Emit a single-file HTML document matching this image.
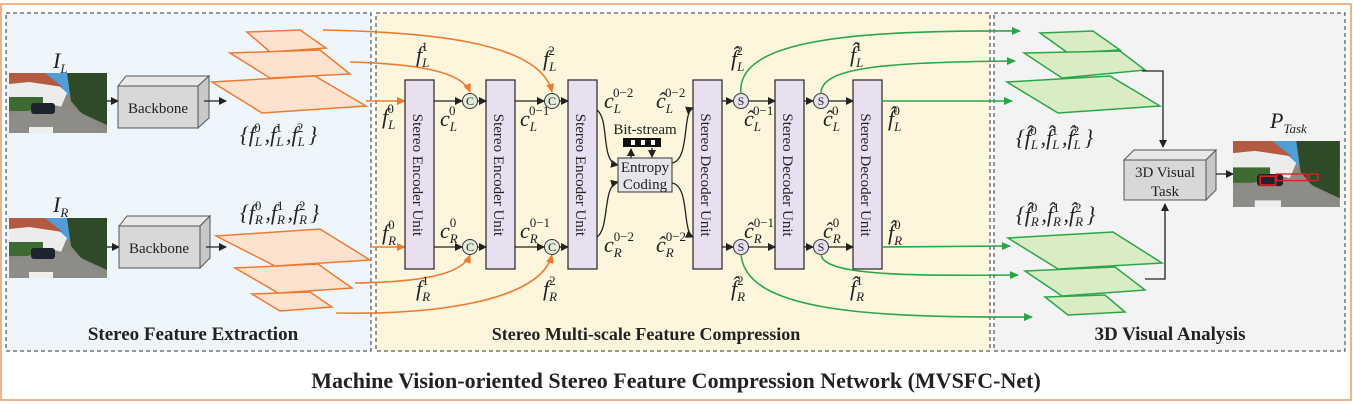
<!DOCTYPE html>
<html><head><meta charset="utf-8"><style>
html,body{margin:0;padding:0;background:#fff;}
svg{display:block;}
.m{font-family:"Liberation Serif",serif;font-style:italic;font-size:22px;fill:#222;}
.s{font-size:13px;}
.n{font-style:normal;}
.t{font-family:"Liberation Serif",serif;font-size:15px;fill:#222;}
.b{font-family:"Liberation Serif",serif;font-weight:bold;fill:#222;}
.op{fill:#fde3cf;stroke:#ee7a30;stroke-width:1.5;}
.gp{fill:#d9ecc4;stroke:#2aa64a;stroke-width:1.5;}
.oc{fill:none;stroke:#ee7a30;stroke-width:1.6;}
.gc{fill:none;stroke:#2aa64a;stroke-width:1.6;}
.k{fill:none;stroke:#222;stroke-width:1.3;}
.unit{fill:#e8e0f0;stroke:#333;stroke-width:1.3;}
</style></head><body>
<svg width="1353" height="404" viewBox="0 0 1353 404" xmlns="http://www.w3.org/2000/svg">
<defs>
<marker id="ak" markerWidth="8" markerHeight="8" refX="7" refY="4" orient="auto" markerUnits="userSpaceOnUse"><path d="M0,0 L8,4 L0,8 z" fill="#222"/></marker>
<marker id="ao" markerWidth="9" markerHeight="8" refX="8" refY="4" orient="auto" markerUnits="userSpaceOnUse"><path d="M0,0 L9,4 L0,8 z" fill="#ee7a30"/></marker>
<marker id="ag" markerWidth="9" markerHeight="8" refX="8" refY="4" orient="auto" markerUnits="userSpaceOnUse"><path d="M0,0 L9,4 L0,8 z" fill="#2aa64a"/></marker>
<g id="photo">
<rect x="0" y="0" width="98" height="60" fill="#8a8a80"/>
<rect x="0" y="0" width="98" height="22" fill="#4f9ed8"/>
<polygon points="0,2 38,2 58,20 52,34 0,38" fill="#ececec"/>
<polygon points="0,0 36,0 54,14 20,9 0,11" fill="#b45a40"/>
<polygon points="58,0 98,0 98,52 72,40 62,28" fill="#2f4a26"/>
<rect x="0" y="24" width="34" height="14" fill="#3d6a30"/>
<polygon points="0,42 45,32 70,38 98,60 0,60" fill="#8e8c88"/>
<rect x="22" y="30" width="24" height="11" rx="3" fill="#1e2330"/>
<rect x="20" y="54" width="24" height="6" fill="#eee"/>
</g>
</defs>

<rect x="1" y="4" width="1350" height="396" fill="#fff" stroke="#ec9a60" stroke-width="1.5"/>
<rect x="6" y="13" width="365" height="338" fill="#eef6fb" stroke="#333" stroke-dasharray="4,3"/>
<rect x="376" y="13" width="614" height="338" fill="#fdf6dd" stroke="#333" stroke-dasharray="4,3"/>
<rect x="994" y="13" width="351" height="338" fill="#f3f3f3" stroke="#333" stroke-dasharray="4,3"/>

<!-- left panel -->
<text class="m" x="53" y="68">I<tspan class="s" dy="5">L</tspan></text>
<use href="#photo" x="9" y="73"/>
<line x1="107" y1="101" x2="118" y2="101" class="k" marker-end="url(#ak)"/>
<g>
<polygon points="118,86 126,76 209,76 198,86" fill="#e8e8e8" stroke="#555"/>
<polygon points="198,86 209,76 209,118 198,128" fill="#c8c8c8" stroke="#555"/>
<rect x="118" y="86" width="80" height="42" fill="#d8d8d8" stroke="#555"/>
<text class="t" x="158" y="113" text-anchor="middle" font-size="16">Backbone</text>
</g>
<line x1="204" y1="101" x2="226" y2="101" class="k" marker-end="url(#ak)"/>
<polygon class="op" points="247,32 300,30 326,48 270,52"/>
<polygon class="op" points="230,53 320,50 350,74 270,78"/>
<polygon class="op" points="212,82 315,76 366,106 262,113"/>
<text class="m" x="240" y="142">{f<tspan class="s" dy="4">L</tspan><tspan class="s n" dx="-8" dy="-14">0</tspan><tspan dx="4" dy="10">,f</tspan><tspan class="s" dy="4">L</tspan><tspan class="s n" dx="-8" dy="-14">1</tspan><tspan dx="4" dy="10">,f</tspan><tspan class="s" dy="4">L</tspan><tspan class="s n" dx="-8" dy="-14">2</tspan><tspan dx="5" dy="10">}</tspan></text>

<text class="m" x="53" y="212">I<tspan class="s" dy="5">R</tspan></text>
<use href="#photo" x="9" y="218"/>
<line x1="107" y1="247" x2="119" y2="247" class="k" marker-end="url(#ak)"/>
<g>
<polygon points="119,226 127,216 210,216 200,226" fill="#e8e8e8" stroke="#555"/>
<polygon points="200,226 210,216 210,258 200,268" fill="#c8c8c8" stroke="#555"/>
<rect x="119" y="226" width="81" height="42" fill="#d8d8d8" stroke="#555"/>
<text class="t" x="159" y="253" text-anchor="middle" font-size="16">Backbone</text>
</g>
<line x1="206" y1="247" x2="226" y2="247" class="k" marker-end="url(#ak)"/>
<text class="m" x="240" y="220">{f<tspan class="s" dy="4">R</tspan><tspan class="s n" dx="-8" dy="-14">0</tspan><tspan dx="4" dy="10">,f</tspan><tspan class="s" dy="4">R</tspan><tspan class="s n" dx="-8" dy="-14">1</tspan><tspan dx="4" dy="10">,f</tspan><tspan class="s" dy="4">R</tspan><tspan class="s n" dx="-8" dy="-14">2</tspan><tspan dx="5" dy="10">}</tspan></text>
<polygon class="op" points="252,294 310,292 332,307 280,311"/>
<polygon class="op" points="235,268 318,264 352,288 278,293"/>
<polygon class="op" points="216,236 320,229 370,260 275,266"/>
<text class="b" x="193" y="340" font-size="19" text-anchor="middle">Stereo Feature Extraction</text>

<!-- orange connectors -->
<path class="oc" d="M323,30 C420,32 540,40 552,92" marker-end="url(#ao)"/>
<path class="oc" d="M350,62 C420,64 462,72 470,92" marker-end="url(#ao)"/>
<path class="oc" d="M366,101 L405,101" marker-end="url(#ao)"/>
<path class="oc" d="M370,247 L405,247" marker-end="url(#ao)"/>
<path class="oc" d="M355,283 C420,282 462,275 470,255" marker-end="url(#ao)"/>
<path class="oc" d="M336,313 C440,315 540,300 552,255" marker-end="url(#ao)"/>

<!-- units -->
<g class="t" font-size="17">
<rect class="unit" x="405" y="80" width="29" height="189"/>
<rect class="unit" x="486" y="80" width="29" height="189"/>
<rect class="unit" x="568" y="80" width="29" height="189"/>
<rect class="unit" x="693" y="80" width="29" height="189"/>
<rect class="unit" x="775" y="80" width="29" height="189"/>
<rect class="unit" x="853" y="80" width="29" height="189"/>
<text transform="translate(413,175) rotate(90)" text-anchor="middle">Stereo Encoder Unit</text>
<text transform="translate(494,175) rotate(90)" text-anchor="middle">Stereo Encoder Unit</text>
<text transform="translate(576,175) rotate(90)" text-anchor="middle">Stereo Encoder Unit</text>
<text transform="translate(701,175) rotate(90)" text-anchor="middle">Stereo Decoder Unit</text>
<text transform="translate(783,175) rotate(90)" text-anchor="middle">Stereo Decoder Unit</text>
<text transform="translate(861,175) rotate(90)" text-anchor="middle">Stereo Decoder Unit</text>
</g>

<!-- horizontal black arrows -->
<g>
<line class="k" x1="434" y1="101" x2="462" y2="101" marker-end="url(#ak)"/>
<line class="k" x1="478" y1="101" x2="486" y2="101" marker-end="url(#ak)"/>
<line class="k" x1="515" y1="101" x2="544" y2="101" marker-end="url(#ak)"/>
<line class="k" x1="560" y1="101" x2="568" y2="101" marker-end="url(#ak)"/>
<line class="k" x1="434" y1="247" x2="462" y2="247" marker-end="url(#ak)"/>
<line class="k" x1="478" y1="247" x2="486" y2="247" marker-end="url(#ak)"/>
<line class="k" x1="515" y1="247" x2="544" y2="247" marker-end="url(#ak)"/>
<line class="k" x1="560" y1="247" x2="568" y2="247" marker-end="url(#ak)"/>
<line class="k" x1="722" y1="101" x2="733" y2="101" marker-end="url(#ak)"/>
<line class="k" x1="749" y1="101" x2="775" y2="101" marker-end="url(#ak)"/>
<line class="k" x1="804" y1="101" x2="813" y2="101" marker-end="url(#ak)"/>
<line class="k" x1="829" y1="101" x2="853" y2="101" marker-end="url(#ak)"/>
<line class="k" x1="722" y1="247" x2="733" y2="247" marker-end="url(#ak)"/>
<line class="k" x1="749" y1="247" x2="775" y2="247" marker-end="url(#ak)"/>
<line class="k" x1="804" y1="247" x2="813" y2="247" marker-end="url(#ak)"/>
<line class="k" x1="829" y1="247" x2="853" y2="247" marker-end="url(#ak)"/>
</g>
<g font-family="Liberation Serif,serif" font-size="12" text-anchor="middle" fill="#222">
<circle cx="470" cy="101" r="7.5" fill="#e3eedd" stroke="#333"/><text x="470" y="105">C</text>
<circle cx="552" cy="101" r="7.5" fill="#e3eedd" stroke="#333"/><text x="552" y="105">C</text>
<circle cx="470" cy="247" r="7.5" fill="#e3eedd" stroke="#333"/><text x="470" y="251">C</text>
<circle cx="552" cy="247" r="7.5" fill="#e3eedd" stroke="#333"/><text x="552" y="251">C</text>
<circle cx="741" cy="101" r="7.5" fill="#e6e0f2" stroke="#333"/><text x="741" y="105">S</text>
<circle cx="821" cy="101" r="7.5" fill="#e6e0f2" stroke="#333"/><text x="821" y="105">S</text>
<circle cx="741" cy="247" r="7.5" fill="#e6e0f2" stroke="#333"/><text x="741" y="251">S</text>
<circle cx="821" cy="247" r="7.5" fill="#e6e0f2" stroke="#333"/><text x="821" y="251">S</text>
</g>

<!-- entropy -->
<path class="k" d="M597,110 C610,120 600,162 618,165" marker-end="url(#ak)"/>
<path class="k" d="M597,237 C610,228 602,186 618,182" marker-end="url(#ak)"/>
<path class="k" d="M672,163 C690,160 682,112 693,108" marker-end="url(#ak)"/>
<path class="k" d="M672,183 C690,186 682,232 693,237" marker-end="url(#ak)"/>
<rect x="618" y="158" width="54" height="34" fill="#e4e6ea" stroke="#333"/>
<text class="t" x="645" y="172" text-anchor="middle" font-size="14">Entropy</text>
<text class="t" x="645" y="189" text-anchor="middle" font-size="14">Coding</text>
<rect x="623" y="138" width="38" height="9" fill="#111"/>
<rect x="631" y="140" width="4" height="5" fill="#fff"/>
<rect x="641" y="140" width="4" height="5" fill="#fff"/>
<rect x="651" y="140" width="4" height="5" fill="#fff"/>
<line class="k" x1="631" y1="158" x2="631" y2="149" marker-end="url(#ak)"/>
<line class="k" x1="652" y1="148" x2="652" y2="157" marker-end="url(#ak)"/>
<text class="t" x="645" y="134" text-anchor="middle" font-size="11">Bit-stream</text>

<!-- labels middle -->
<g class="m">
<text x="416" y="62">f<tspan class="s" dy="5">L</tspan><tspan class="s n" dx="-8" dy="-16">1</tspan></text>
<text x="543" y="66">f<tspan class="s" dy="5">L</tspan><tspan class="s n" dx="-8" dy="-16">2</tspan></text>
<text x="382" y="124">f<tspan class="s" dy="5">L</tspan><tspan class="s n" dx="-8" dy="-16">0</tspan></text>
<text x="440" y="126">c<tspan class="s" dy="5">L</tspan><tspan class="s n" dx="-8" dy="-16">0</tspan></text>
<text x="520" y="126">c<tspan class="s" dy="5">L</tspan><tspan class="s n" dx="-8" dy="-16">0−1</tspan></text>
<text x="604" y="108">c<tspan class="s" dy="5">L</tspan><tspan class="s n" dx="-8" dy="-16">0−2</tspan></text>
<text x="656" y="108">ĉ<tspan class="s" dy="5">L</tspan><tspan class="s n" dx="-8" dy="-16">0−2</tspan></text>
<text x="744" y="126">ĉ<tspan class="s" dy="5">L</tspan><tspan class="s n" dx="-8" dy="-16">0−1</tspan></text>
<text x="823" y="126">ĉ<tspan class="s" dy="5">L</tspan><tspan class="s n" dx="-8" dy="-16">0</tspan></text>
<text x="731" y="66">f̂<tspan class="s" dy="5">L</tspan><tspan class="s n" dx="-8" dy="-16">2</tspan></text>
<text x="850" y="62">f̂<tspan class="s" dy="5">L</tspan><tspan class="s n" dx="-8" dy="-16">1</tspan></text>
<text x="888" y="126">f̂<tspan class="s" dy="5">L</tspan><tspan class="s n" dx="-8" dy="-16">0</tspan></text>

<text x="382" y="240">f<tspan class="s" dy="5">R</tspan><tspan class="s n" dx="-8" dy="-16">0</tspan></text>
<text x="440" y="238">c<tspan class="s" dy="5">R</tspan><tspan class="s n" dx="-8" dy="-16">0</tspan></text>
<text x="520" y="238">c<tspan class="s" dy="5">R</tspan><tspan class="s n" dx="-8" dy="-16">0−1</tspan></text>
<text x="604" y="252">c<tspan class="s" dy="5">R</tspan><tspan class="s n" dx="-8" dy="-16">0−2</tspan></text>
<text x="656" y="252">ĉ<tspan class="s" dy="5">R</tspan><tspan class="s n" dx="-8" dy="-16">0−2</tspan></text>
<text x="744" y="238">ĉ<tspan class="s" dy="5">R</tspan><tspan class="s n" dx="-8" dy="-16">0−1</tspan></text>
<text x="823" y="238">ĉ<tspan class="s" dy="5">R</tspan><tspan class="s n" dx="-8" dy="-16">0</tspan></text>
<text x="888" y="240">f̂<tspan class="s" dy="5">R</tspan><tspan class="s n" dx="-8" dy="-16">0</tspan></text>
<text x="416" y="296">f<tspan class="s" dy="5">R</tspan><tspan class="s n" dx="-8" dy="-16">1</tspan></text>
<text x="543" y="296">f<tspan class="s" dy="5">R</tspan><tspan class="s n" dx="-8" dy="-16">2</tspan></text>
<text x="731" y="296">f̂<tspan class="s" dy="5">R</tspan><tspan class="s n" dx="-8" dy="-16">2</tspan></text>
<text x="850" y="296">f̂<tspan class="s" dy="5">R</tspan><tspan class="s n" dx="-8" dy="-16">1</tspan></text>
</g>
<text class="b" x="646" y="340" font-size="18" text-anchor="middle">Stereo  Multi-scale Feature Compression</text>

<!-- green connectors -->
<path class="gc" d="M741,94 C735,40 850,30 1020,31" marker-end="url(#ag)"/>
<path class="gc" d="M821,94 C820,68 880,62 1015,61" marker-end="url(#ag)"/>
<path class="gc" d="M882,101 L1012,101" marker-end="url(#ag)"/>
<path class="gc" d="M882,247 L1010,246" marker-end="url(#ag)"/>
<path class="gc" d="M821,254 C822,275 900,276 1018,275" marker-end="url(#ag)"/>
<path class="gc" d="M741,254 C745,310 860,318 1032,317" marker-end="url(#ag)"/>

<!-- right panel -->
<polygon class="gp" points="1040,33 1093,31 1120,50 1068,53"/>
<polygon class="gp" points="1024,53 1120,51 1145,70 1062,78"/>
<polygon class="gp" points="1007,82 1110,76 1160,106 1058,113"/>
<text class="m" x="1016" y="145">{f̂<tspan class="s" dy="4">L</tspan><tspan class="s n" dx="-8" dy="-14">0</tspan><tspan dx="4" dy="10">,f̂</tspan><tspan class="s" dy="4">L</tspan><tspan class="s n" dx="-8" dy="-14">1</tspan><tspan dx="4" dy="10">,f̂</tspan><tspan class="s" dy="4">L</tspan><tspan class="s n" dx="-8" dy="-14">2</tspan><tspan dx="5" dy="10">}</tspan></text>
<text class="m" x="1016" y="222">{f̂<tspan class="s" dy="4">R</tspan><tspan class="s n" dx="-8" dy="-14">0</tspan><tspan dx="4" dy="10">,f̂</tspan><tspan class="s" dy="4">R</tspan><tspan class="s n" dx="-8" dy="-14">1</tspan><tspan dx="4" dy="10">,f̂</tspan><tspan class="s" dy="4">R</tspan><tspan class="s n" dx="-8" dy="-14">2</tspan><tspan dx="5" dy="10">}</tspan></text>
<polygon class="gp" points="1008,238 1113,232 1162,263 1058,269"/>
<polygon class="gp" points="1025,271 1115,267 1145,290 1062,296"/>
<polygon class="gp" points="1045,297 1105,295 1125,312 1068,315"/>
<polyline class="k" points="1142,71 1163,71 1163,147" marker-end="url(#ak)"/>
<polyline class="k" points="1145,279 1165,279 1165,204" marker-end="url(#ak)"/>
<polygon points="1124,160 1134,150 1216,150 1206,160" fill="#e8e8e8" stroke="#555"/>
<polygon points="1206,160 1216,150 1216,190 1206,200" fill="#c8c8c8" stroke="#555"/>
<rect x="1124" y="160" width="82" height="40" fill="#d8d8d8" stroke="#555"/>
<text class="t" x="1165" y="177" text-anchor="middle" font-size="15">3D Visual</text>
<text class="t" x="1165" y="196" text-anchor="middle" font-size="15">Task</text>
<line class="k" x1="1216" y1="174" x2="1233" y2="174" marker-end="url(#ak)"/>
<g transform="translate(1233,141) scale(1.09,1.1)"><use href="#photo"/>
<rect x="25" y="32" width="14" height="8" fill="none" stroke="#e02020" stroke-width="1.5"/>
<rect x="40" y="30" width="28" height="6" fill="none" stroke="#e02020" stroke-width="1.2"/>
<rect x="70" y="30" width="8" height="6" fill="none" stroke="#e02020" stroke-width="1.2"/></g>
<text class="m" x="1270" y="128">P<tspan class="s" dy="5">Task</tspan></text>
<text class="b" x="1170" y="340" font-size="19" text-anchor="middle">3D Visual Analysis</text>

<text class="b" x="676" y="388" font-size="22" text-anchor="middle">Machine Vision-oriented Stereo Feature Compression Network (MVSFC-Net)</text>
</svg>
</body></html>
